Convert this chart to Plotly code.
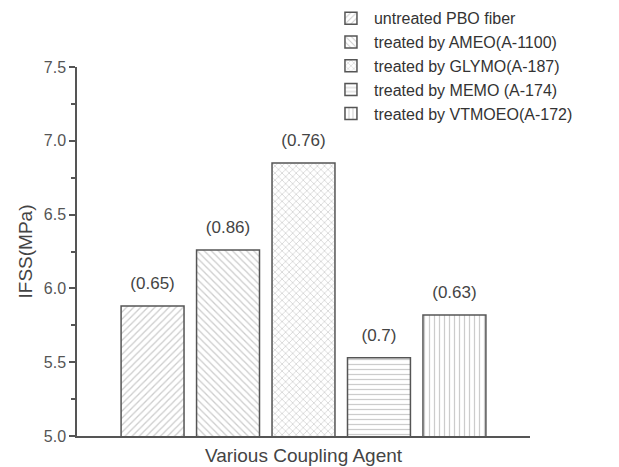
import plotly.graph_objects as go

names = ["untreated PBO fiber", "treated by AMEO(A-1100)", "treated by GLYMO(A-187)",
         "treated by MEMO (A-174)", "treated by VTMOEO(A-172)"]
ifss = [5.88, 6.26, 6.85, 5.53, 5.82]
errs = ["(0.65)", "(0.86)", "(0.76)", "(0.7)", "(0.63)"]
shapes = ["/", "\\", "x", "-", "|"]
category = ["Various Coupling Agent"]

FONT = "Liberation Sans, Arial, sans-serif"

fig = go.Figure()
for n, v, e, s in zip(names, ifss, errs, shapes):
    fig.add_trace(go.Bar(
        x=category, y=[v], name=n,
        text=["<span style='font-size:17px'>" + e + "</span><br> "],
        textposition="outside", cliponaxis=False, constraintext="none",
        textfont=dict(family=FONT, size=9, color="#444"),
        marker=dict(color="white", line=dict(color="#555", width=1.5),
                    pattern=dict(shape=s, fgcolor="#999", size=5, solidity=0.25,
                                 bgcolor="white")),
    ))

fig.update_layout(
    width=619, height=467,
    margin=dict(l=69, r=97, t=59, b=39, autoexpand=False),
    paper_bgcolor="white", plot_bgcolor="white",
    barmode="group", bargap=0.167, bargroupgap=0.166,
    font=dict(family=FONT, color="#444"),
    showlegend=True,
    legend=dict(x=0.554, y=1.178, xanchor="left", yanchor="top",
                bgcolor="rgba(0,0,0,0)", font=dict(size=16, color="#333"),
                tracegroupgap=0, itemwidth=36),
)
fig.update_xaxes(showticklabels=False, ticks="", showline=True, linecolor="#555", linewidth=1.5,
                 automargin=False,
                 title=dict(text="Various Coupling Agent", font=dict(size=19, color="#444"), standoff=12),
                 showgrid=False)
fig.update_yaxes(range=[5, 7.5], dtick=0.5, tickformat=".1f", ticks="outside", ticklen=6,
                 tickcolor="#555", tickwidth=1.5, automargin=False,
                 minor=dict(dtick=0.25, ticks="outside", ticklen=4, tickcolor="#555", tickwidth=1.5),
                 showline=True, linecolor="#555", linewidth=1.5, showgrid=False, zeroline=False,
                 tickfont=dict(size=16, color="#555"),
                 title=dict(text="IFSS(MPa)", font=dict(size=19, color="#444"), standoff=6))

fig.write_html("out.html")
